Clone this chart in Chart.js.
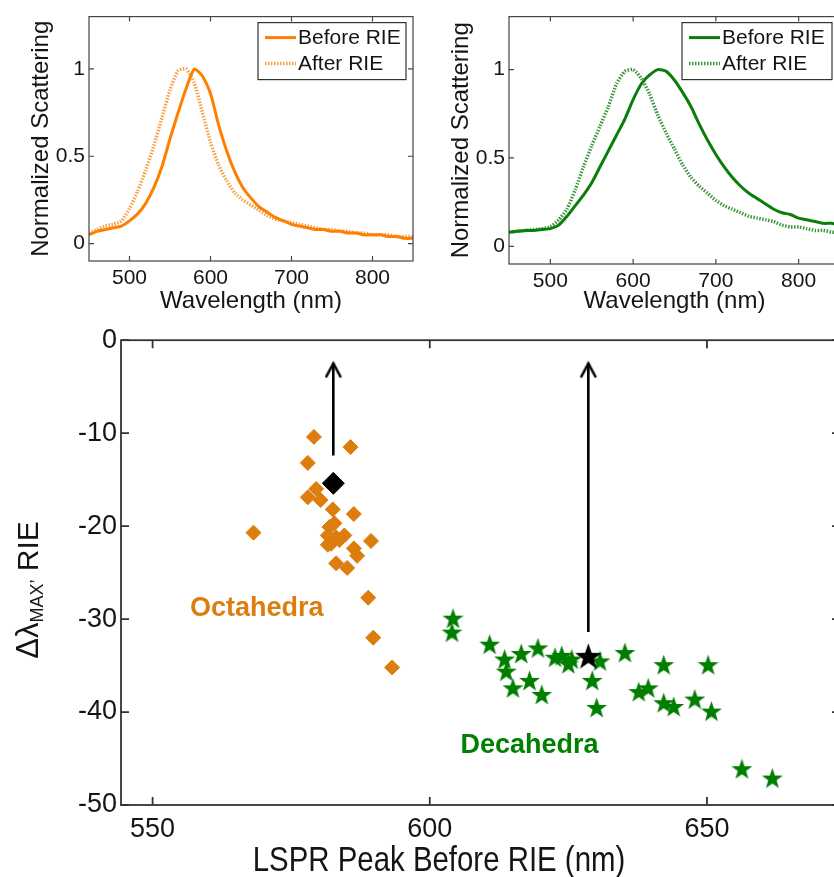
<!DOCTYPE html>
<html>
<head>
<meta charset="utf-8">
<script src="https://cdn.jsdelivr.net/npm/chart.js@4.4.1/dist/chart.umd.min.js"></script>
<style>
html, body { margin: 0; padding: 0; background: #fff; overflow: hidden; width: 834px; height: 877px; }
canvas { position: absolute; }
#octa { left: 0; top: 0; }
#deca { left: 420px; top: 0; }
#shift { left: 0; top: 320px; }
</style>
</head>
<body>
<canvas id="octa" width="420" height="320"></canvas>
<canvas id="deca" width="440" height="320"></canvas>
<canvas id="shift" width="860" height="557"></canvas>
<script>
// single-particle spectra, read every 10 nm
const wavelengths = [450, 460, 470, 480, 490, 500, 510, 520, 530, 540, 550, 560, 570, 580, 590, 600,
  610, 620, 630, 640, 650, 660, 670, 680, 690, 700, 710, 720, 730, 740, 750, 760, 770, 780, 790, 800,
  810, 820, 830, 840, 850];
const octaBefore = [0.05, 0.07, 0.08, 0.09, 0.10, 0.13, 0.17, 0.23, 0.32, 0.44, 0.60, 0.75, 0.89, 1.00, 0.96, 0.86,
  0.68, 0.53, 0.41, 0.32, 0.26, 0.21, 0.18, 0.15, 0.13, 0.11, 0.10, 0.09, 0.08, 0.08, 0.07, 0.07, 0.06, 0.06, 0.05, 0.05,
  0.05, 0.04, 0.04, 0.03, 0.03];
const octaAfter = [0.06, 0.08, 0.10, 0.11, 0.13, 0.20, 0.30, 0.42, 0.56, 0.72, 0.88, 0.99, 1.00, 0.92, 0.75, 0.58,
  0.45, 0.36, 0.29, 0.25, 0.22, 0.19, 0.16, 0.14, 0.13, 0.12, 0.11, 0.10, 0.09, 0.08, 0.08, 0.07, 0.07, 0.06, 0.06, 0.05,
  0.05, 0.05, 0.04, 0.04, 0.04];
const decaBefore = [0.08, 0.085, 0.09, 0.09, 0.095, 0.10, 0.12, 0.17, 0.23, 0.29, 0.36, 0.45, 0.54, 0.63, 0.72, 0.83,
  0.92, 0.97, 1.00, 0.99, 0.94, 0.87, 0.79, 0.69, 0.60, 0.52, 0.45, 0.39, 0.34, 0.30, 0.27, 0.24, 0.21, 0.19, 0.18, 0.16,
  0.15, 0.14, 0.13, 0.13, 0.12];
const decaAfter = [0.08, 0.085, 0.09, 0.095, 0.10, 0.11, 0.15, 0.21, 0.32, 0.45, 0.57, 0.68, 0.79, 0.92, 0.99, 1.00,
  0.95, 0.86, 0.74, 0.64, 0.55, 0.46, 0.39, 0.34, 0.30, 0.26, 0.23, 0.21, 0.19, 0.17, 0.16, 0.15, 0.14, 0.12, 0.11, 0.11,
  0.10, 0.09, 0.09, 0.08, 0.08];
const spectraXTicks = [500, 600, 700, 800];
const spectraYTicks = [0, 0.5, 1];

// LSPR peak before RIE (nm) vs. peak shift after RIE (nm)
const octaPeak = [568.2, 579.1, 585.7, 578.0, 578.0, 579.5, 580.3, 582.5, 586.3, 582.8, 581.9, 581.6, 583.1,
  582.2, 583.7, 584.6, 581.6, 589.4, 586.3, 586.9, 583.1, 585.1, 588.9, 589.8, 593.2];
const octaShift = [-20.7, -10.4, -11.5, -13.2, -16.9, -16.0, -17.2, -18.2, -18.7, -19.7, -20.1, -21.0, -21.2,
  -21.9, -21.5, -21.0, -22.0, -21.6, -22.4, -23.2, -24.0, -24.5, -27.7, -32.0, -35.2];
const decaPeak = [604.2, 604.0, 610.8, 613.5, 616.5, 619.5, 613.8, 618.0, 615.0, 620.2, 622.6, 623.8, 625.0,
  625.6, 630.7, 629.3, 630.1, 635.2, 642.2, 650.2, 637.7, 639.4, 642.2, 644.0, 647.8, 650.8, 656.3, 661.8];
const decaShift = [-29.9, -31.4, -32.7, -34.3, -33.7, -33.1, -35.6, -36.6, -37.4, -38.1, -34.1, -33.9, -34.8,
  -34.3, -34.5, -36.6, -39.5, -33.6, -34.9, -34.9, -37.8, -37.4, -39.0, -39.4, -38.6, -39.9, -46.1, -47.1];
// averages (octahedra, decahedra) and the arrows above them
const avgPeak = [582.6, 628.6];
const avgShift = [-15.4, -34.0];
const arrowFrom = [-12.4, -31.4];
const arrowTo = [-2.5, -2.5];
const shiftXTicks = [550, 600, 650];
const shiftYTicks = [-50, -40, -30, -20, -10, 0];

const FONT = '"Liberation Sans", Arial, sans-serif';
const INK = '#151515';

function pairs(xs, ys) {
  return xs.map((v, i) => ({ x: v, y: ys[i] }));
}

function fixedTicks(values) {
  return s => { s.ticks = values.map(v => ({ value: v })); };
}

function starImage(size, color) {
  const c = document.createElement('canvas');
  c.width = c.height = size;
  const g = c.getContext('2d');
  const R = size / 2 - 0.5, r = R * 0.4, m = size / 2;
  g.fillStyle = color;
  g.beginPath();
  for (let i = 0; i < 10; i++) {
    const a = -Math.PI / 2 + i * Math.PI / 5;
    const d = i % 2 ? r : R;
    g.lineTo(m + d * Math.cos(a), m + 1 + d * Math.sin(a));
  }
  g.closePath();
  g.fill();
  return c;
}

function arrowHead() {
  const c = document.createElement('canvas');
  c.width = c.height = 32;
  const g = c.getContext('2d');
  g.strokeStyle = '#000';
  g.lineWidth = 2.6;
  g.lineCap = 'round';
  g.beginPath();
  g.moveTo(9, 29);
  g.lineTo(16, 16);
  g.lineTo(23, 29);
  g.stroke();
  return c;
}

// MATLAB style box with inward ticks
const frame = {
  id: 'frame',
  afterDatasetsDraw(chart, args, o) {
    const { ctx, chartArea: a, scales: { x, y } } = chart;
    ctx.save();
    ctx.strokeStyle = o.color;
    ctx.lineWidth = o.width;
    ctx.strokeRect(a.left, a.top, a.right - a.left, a.bottom - a.top);
    ctx.beginPath();
    x.ticks.forEach(t => {
      const p = x.getPixelForValue(t.value);
      ctx.moveTo(p, a.bottom); ctx.lineTo(p, a.bottom - o.tick);
      ctx.moveTo(p, a.top); ctx.lineTo(p, a.top + o.tick);
    });
    y.ticks.forEach(t => {
      const p = y.getPixelForValue(t.value);
      ctx.moveTo(a.left, p); ctx.lineTo(a.left + o.tick, p);
      ctx.moveTo(a.right, p); ctx.lineTo(a.right - o.tick, p);
    });
    ctx.stroke();
    ctx.restore();
  }
};

const boxLegend = {
  id: 'boxLegend',
  afterDraw(chart, args, o) {
    if (!o.width) return;
    const { ctx, chartArea: a } = chart;
    const L = a.right - o.inset - o.width, T = a.top + 6;
    ctx.save();
    ctx.fillStyle = '#fff';
    ctx.fillRect(L, T, o.width, 57);
    ctx.strokeStyle = '#333';
    ctx.lineWidth = 1.2;
    ctx.strokeRect(L, T, o.width, 57);
    ctx.font = '21px ' + FONT;
    ctx.textBaseline = 'middle';
    chart.data.datasets.forEach((ds, i) => {
      const yy = T + 15 + i * 26;
      ctx.strokeStyle = ds.borderColor;
      ctx.lineWidth = ds.borderWidth;
      ctx.setLineDash(ds.borderDash || []);
      ctx.beginPath();
      ctx.moveTo(L + 7, yy);
      ctx.lineTo(L + 38, yy);
      ctx.stroke();
      ctx.setLineDash([]);
      ctx.fillStyle = INK;
      ctx.fillText(ds.label, L + 40, yy + 1);
    });
    ctx.restore();
  }
};

function spectrum(id, before, after, solid, dotted, padRight, xHeight, legendInset, legendWidth) {
  return new Chart(document.getElementById(id), {
    type: 'line',
    data: {
      datasets: [
        { label: 'Before RIE', data: pairs(wavelengths, before), borderColor: solid, borderWidth: 3,
          pointRadius: 0, tension: 0.2 },
        { label: 'After RIE', data: pairs(wavelengths, after), borderColor: dotted, borderWidth: 3.5,
          borderDash: [1.5, 1.5], pointRadius: 0, tension: 0.2 }
      ]
    },
    options: {
      responsive: false,
      animation: false,
      layout: { padding: { top: 15, right: padRight, left: 0, bottom: 0 } },
      plugins: {
        legend: { display: false },
        tooltip: { enabled: false },
        frame: { color: '#444', width: 1.2, tick: 5 },
        boxLegend: { inset: legendInset, width: legendWidth }
      },
      scales: {
        x: {
          type: 'linear', min: 450, max: 850,
          grid: { display: false, drawTicks: false }, border: { display: false },
          afterBuildTicks: fixedTicks(spectraXTicks),
          ticks: { padding: 5, color: INK, font: { family: FONT, size: 21 }, callback: v => String(v) },
          title: { display: true, text: 'Wavelength (nm)', color: INK,
            font: { family: FONT, size: 24 }, padding: { top: 0, bottom: 4 } },
          afterFit: s => { s.height = xHeight; }
        },
        y: {
          min: -0.1, max: 1.3,
          grid: { display: false, drawTicks: false }, border: { display: false },
          afterBuildTicks: fixedTicks(spectraYTicks),
          ticks: { padding: 4, color: INK, font: { family: FONT, size: 21 }, callback: v => String(v) },
          title: { display: true, text: 'Normalized Scattering', color: INK,
            font: { family: FONT, size: 24 }, padding: { top: 27, bottom: 0 } },
          afterFit: s => { s.width = 89; }
        }
      }
    },
    plugins: [frame, boxLegend]
  });
}

Chart.register(frame, boxLegend);

spectrum('octa', octaBefore, octaAfter, '#ff7f00', '#f7a048', 7, 59, 7, 148);
spectrum('deca', decaBefore, decaAfter, '#0a7d0a', '#3d963d', 20, 56, 8, 150);

// scatter of peak shifts
const ORANGE = '#dc7d0d';
const GREEN = '#007e00';
const greenStar = starImage(23, GREEN);
const blackStar = starImage(29, '#000');
const head = arrowHead();

const shiftText = {
  id: 'shiftText',
  afterDraw(chart, args, o) {
    if (!o.labels) return;
    const { ctx, scales: { x, y } } = chart;
    ctx.save();
    ctx.font = 'bold 27px ' + FONT;
    ctx.textAlign = 'center';
    ctx.textBaseline = 'middle';
    o.labels.forEach(l => {
      ctx.fillStyle = l.color;
      ctx.fillText(l.text, x.getPixelForValue(l.x), y.getPixelForValue(l.y));
    });

    ctx.fillStyle = INK;
    // x axis title
    ctx.save();
    ctx.translate(439, 551);
    ctx.scale(0.84, 1);
    ctx.font = '35px ' + FONT;
    ctx.textBaseline = 'alphabetic';
    ctx.fillText('LSPR Peak Before RIE (nm)', 0, 0);
    ctx.restore();

    // y axis title with subscript
    ctx.save();
    ctx.translate(38, 270);
    ctx.rotate(-Math.PI / 2);
    ctx.textAlign = 'left';
    ctx.textBaseline = 'alphabetic';
    const parts = [
      { t: '\u0394\u03bb', f: '31px ' + FONT, dy: 0 },
      { t: 'MAX\u2019', f: '18px ' + FONT, dy: 5 },
      { t: ' RIE', f: '30px ' + FONT, dy: 0 }
    ];
    let total = 0;
    parts.forEach(p => { ctx.font = p.f; p.w = ctx.measureText(p.t).width; total += p.w; });
    let cx = -total / 2;
    parts.forEach(p => { ctx.font = p.f; ctx.fillText(p.t, cx, p.dy); cx += p.w; });
    ctx.restore();
    ctx.restore();
  }
};

new Chart(document.getElementById('shift'), {
  type: 'scatter',
  data: {
    datasets: [
      { data: pairs([avgPeak[0], avgPeak[0]], [arrowFrom[0], arrowTo[0]]), showLine: true,
        borderColor: '#000', borderWidth: 2.6, pointStyle: head, pointRadius: [0, 8] },
      { data: pairs([avgPeak[1], avgPeak[1]], [arrowFrom[1], arrowTo[1]]), showLine: true,
        borderColor: '#000', borderWidth: 2.6, pointStyle: head, pointRadius: [0, 8] },
      { data: pairs([avgPeak[0]], [avgShift[0]]), pointStyle: 'rectRot', pointRadius: 11,
        backgroundColor: '#000', borderColor: '#000', borderWidth: 1 },
      { data: pairs([avgPeak[1]], [avgShift[1]]), pointStyle: blackStar, pointRadius: 12 },
      { data: pairs(octaPeak, octaShift), pointStyle: 'rectRot', pointRadius: 7.5,
        backgroundColor: ORANGE, borderColor: ORANGE, borderWidth: 1 },
      { data: pairs(decaPeak, decaShift), pointStyle: greenStar, pointRadius: 10 }
    ]
  },
  options: {
    responsive: false,
    animation: false,
    layout: { padding: { top: 14, right: 20, left: 0, bottom: 0 } },
    plugins: {
      legend: { display: false },
      tooltip: { enabled: false },
      frame: { color: '#333', width: 1.8, tick: 8 },
      shiftText: {
        labels: [
          { text: 'Octahedra', x: 568.8, y: -28.9, color: ORANGE },
          { text: 'Decahedra', x: 618.0, y: -43.6, color: '#008000' }
        ]
      }
    },
    scales: {
      x: {
        type: 'linear', min: 544.3, max: 674,
        grid: { display: false, drawTicks: false }, border: { display: false },
        afterBuildTicks: fixedTicks(shiftXTicks),
        ticks: { padding: 8, color: INK, font: { family: FONT, size: 27 }, callback: v => String(v) },
        afterFit: s => { s.height = 72; }
      },
      y: {
        min: -50, max: 0,
        grid: { display: false, drawTicks: false }, border: { display: false },
        afterBuildTicks: fixedTicks(shiftYTicks),
        ticks: { padding: 4, color: INK, font: { family: FONT, size: 27 }, callback: v => String(v) },
        afterFit: s => { s.width = 121; }
      }
    }
  },
  plugins: [frame, shiftText]
});
</script>
</body>
</html>
